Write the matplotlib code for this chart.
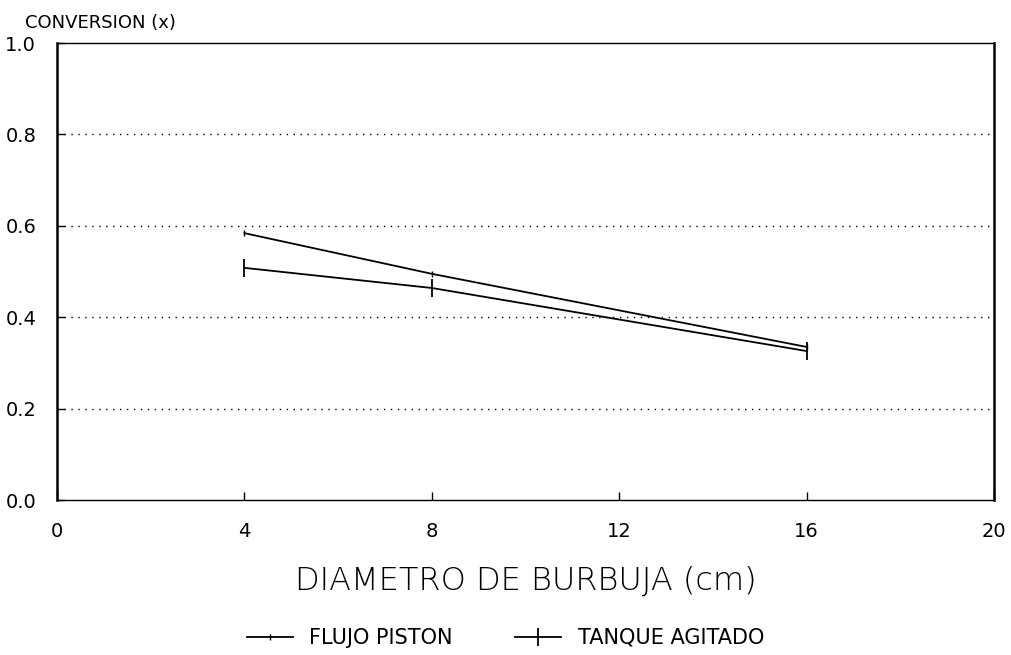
import matplotlib
matplotlib.use("Agg")
import matplotlib.pyplot as plt

# data
diametro = [4, 8, 16]
flujo_piston = [0.584, 0.495, 0.335]
tanque_agitado = [0.508, 0.464, 0.326]

x_ticks = [0, 4, 8, 12, 16, 20]
y_ticks = [0.0, 0.2, 0.4, 0.6, 0.8, 1.0]
grid_levels = [0.2, 0.4, 0.6, 0.8]

plt.rcParams["font.family"] = ["DejaVu Sans"]

fig = plt.figure(figsize=(10.11, 6.55), dpi=100)
ax = fig.add_axes([0.0564, 0.2366, 0.9268, 0.6977])

for lvl in grid_levels:
    ax.axhline(lvl, color="black", linestyle=(0, (1, 4)), linewidth=1.0, zorder=1)

ax.plot(diametro, flujo_piston, color="black", linewidth=1.3,
        marker="|", markersize=4, label="FLUJO PISTON", zorder=3)
ax.plot(diametro, tanque_agitado, color="black", linewidth=1.3,
        marker="|", markersize=13, markeredgewidth=1.3,
        label="TANQUE AGITADO", zorder=3)

ax.set_xlim(0, 20)
ax.set_ylim(0, 1.0)
ax.set_xticks(x_ticks)
ax.set_xticklabels([str(v) for v in x_ticks])
ax.set_yticks(y_ticks)
ax.set_yticklabels([f"{v:.1f}" for v in y_ticks])
ax.tick_params(axis="both", direction="in", length=6, width=1.0,
               labelsize=14, colors="black")
ax.tick_params(axis="x", pad=16)
ax.tick_params(axis="y", pad=15)

for side in ["top", "bottom"]:
    ax.spines[side].set_linewidth(1.0)
ax.spines["left"].set_linewidth(1.8)
ax.spines["right"].set_linewidth(1.8)

fig.text(0.025, 0.965, "CONVERSION (x)", fontsize=13, ha="left", va="center",
         color="black")
fig.text(0.52, 0.113, "DIAMETRO DE BURBUJA (cm)", fontsize=23, ha="center",
         va="center", fontweight="light")

fig.legend(loc="center", bbox_to_anchor=(0.50, 0.026), ncol=2, frameon=False,
           fontsize=15, handlelength=2.2, columnspacing=3.0)

fig.savefig("out.png", dpi=100, facecolor="white")
